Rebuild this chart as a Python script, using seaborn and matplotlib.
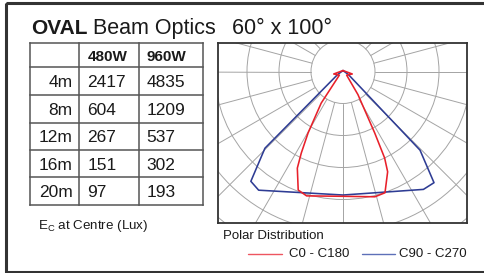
import numpy as np
import pandas as pd
import matplotlib
matplotlib.use("Agg")
import matplotlib.pyplot as plt
import seaborn as sns
from matplotlib.patches import Rectangle, Circle

# ---------------- data ----------------
distances = ["4m", "8m", "12m", "16m", "20m"]
columns = ["480W", "960W"]
lux_480w = [2417, 604, 267, 151, 97]
lux_960w = [4835, 1209, 537, 302, 193]

# polar distribution (angle in degrees from nadir, relative intensity)
c0_angles = [-180, -75, -45, -34.6, -29.6, -27.1, -25.3, -20.7, -16.3, 0,
             14.3, 19.1, 24, 25.7, 27.3, 32.9, 45, 75, 180]
c0_values = [3, 30, 16, 120, 221, 286, 334, 396, 405, 390,
             404, 401, 343, 300, 216, 86, 16, 30, 3]
c90_angles = [-180, -60, -45.5, -40, -35.4, 0, 34.3, 39.3, 44.4, 60, 180]
c90_values = [3, 20, 342, 448, 455, 386, 446, 449, 344, 20, 3]

ring_values = [100, 200, 300, 400, 500, 600, 700]
spoke_angles = list(range(0, 360, 15))

series_labels = ["C0 - C180", "C90 - C270"]
red = "#e8202a"
blue = "#2e3c94"

# ---------------- figure ----------------
sns.set_theme(style="white")
plt.rcParams["font.family"] = ["Liberation Sans", "DejaVu Sans"]
plt.rcParams["mathtext.fontset"] = "custom"
plt.rcParams["mathtext.rm"] = "Liberation Sans"

W, H = 485, 273
fig = plt.figure(figsize=(W / 100, H / 100), dpi=100)
fig.patch.set_facecolor("white")

# overlay in pixel coordinates
ov = fig.add_axes([0, 0, 1, 1])
ov.set_xlim(0, W)
ov.set_ylim(H, 0)
ov.axis("off")

# outer frame
ov.add_patch(Rectangle((6.5, 3.2), 500, 269.2, fill=False, lw=2.2,
                       ec="#333333", clip_on=False))

# title
tc = "#1a1a1a"
ov.text(30.7, 34, "OVAL", fontsize=15, fontweight="bold", color=tc, va="baseline")
ov.text(93.3, 34, "Beam Optics", fontsize=15.5, color=tc, va="baseline")
ov.text(232, 34, "60° x 100°", fontsize=15.5, color=tc, va="baseline")

# table
row_edges = [42.7, 67.3, 95, 122.7, 150, 177.3, 205]
col_edges = [30, 79.3, 139.3, 203.3]
lc = "#555555"
for y in row_edges:
    ov.plot([col_edges[0], col_edges[-1]], [y, y], color=lc, lw=1.1, solid_capstyle="projecting")
for x in col_edges:
    ov.plot([x, x], [row_edges[0], row_edges[-1]], color=lc, lw=1.1, solid_capstyle="projecting")

col_text_x = [87.3, 146.7]
for cx, name in zip(col_text_x, columns):
    ov.text(cx, 60.8, name, fontsize=11, fontweight="bold", color=tc, va="baseline")

for i, (d, a, b) in enumerate(zip(distances, lux_480w, lux_960w)):
    yb = (row_edges[i + 1] + row_edges[i + 2]) / 2 + 6.1
    ov.text(72.7, yb, d, fontsize=12.5, color=tc, ha="right", va="baseline")
    ov.text(col_text_x[0], yb, str(a), fontsize=12.5, color=tc, va="baseline")
    ov.text(col_text_x[1], yb, str(b), fontsize=12.5, color=tc, va="baseline")

ov.text(38.3, 229, r"E$_{\mathrm{C}}$ at Centre (Lux)", fontsize=9.6, color=tc, va="baseline")

# polar distribution panel
ov.text(222.7, 239, "Polar Distribution", fontsize=9.5, color=tc, va="baseline")

# legend
ov.plot([248.3, 281.7], [253.7, 253.7], color="#ee5560", lw=1.0)
ov.text(289, 257.3, series_labels[0], fontsize=9.5, color=tc, va="baseline")
ov.plot([361.7, 395], [253.7, 253.7], color="#5d70b8", lw=1.0)
ov.text(399, 257.3, series_labels[1], fontsize=9.5, color=tc, va="baseline")

# polar axes (cartesian, centre at the light source)
px_l, px_r, px_t, px_b = 218, 467, 43, 223
cx_px, cy_px = 343, 71.5
scale = 100 / 32.0  # units per pixel
ax = fig.add_axes([px_l / W, (H - px_b) / H, (px_r - px_l) / W, (px_b - px_t) / H])
ax.set_xlim((px_l - cx_px) * scale, (px_r - cx_px) * scale)
ax.set_ylim(-(px_b - cy_px) * scale, (cy_px - px_t) * scale)
ax.set_xticks([])
ax.set_yticks([])
ax.set_facecolor("white")
for s in ax.spines.values():
    s.set_color("#333333")
    s.set_linewidth(1.3)

gc = "#a4a4a4"
for rv in ring_values:
    ax.add_patch(Circle((0, 0), rv, fill=False, ec=gc, lw=0.7))
for a in spoke_angles:
    t = np.deg2rad(a)
    ax.plot([100 * np.sin(t), 900 * np.sin(t)], [-100 * np.cos(t), -900 * np.cos(t)],
            color=gc, lw=0.7)


def to_xy(angles, values):
    t = np.deg2rad(np.asarray(angles, dtype=float))
    r = np.asarray(values, dtype=float)
    return pd.DataFrame({"x": r * np.sin(t), "y": -r * np.cos(t)})


d90 = to_xy(c90_angles, c90_values)
d0 = to_xy(c0_angles, c0_values)
sns.lineplot(data=d90, x="x", y="y", sort=False, estimator=None, color=blue, lw=1.15, ax=ax)
sns.lineplot(data=d0, x="x", y="y", sort=False, estimator=None, color=red, lw=1.15, ax=ax)
ax.set_xlabel("")
ax.set_ylabel("")

fig.savefig("out.png", dpi=100, facecolor="white")
